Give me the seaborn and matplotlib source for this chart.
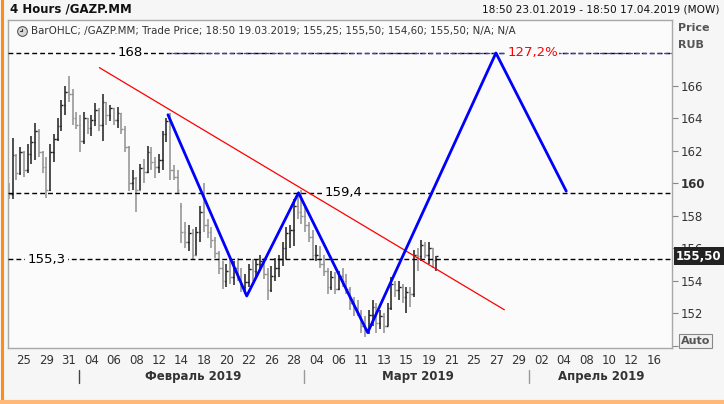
import numpy as np
import matplotlib
matplotlib.use("Agg")
import matplotlib.pyplot as plt
import matplotlib.transforms as mtrans
from matplotlib.lines import Line2D
import seaborn as sns

# 4h OHLC bars, 23.01.2019 18:50 .. 19.03.2019 18:50 (3 bars per trading day)
bar_open = [159.8, 159.3, 161.7, 160.6, 161.9, 160.8, 161.8, 162.5, 163.2, 161.9,
            161.0, 159.6, 161.9, 162.7, 163.5, 164.8, 165.6, 165.5, 164.0, 163.6,
            162.6, 164.0, 163.4, 163.9, 164.5, 163.6, 165.0, 164.2, 164.6, 163.9,
            164.3, 163.3, 162.2, 160.0, 160.3, 159.6, 160.9, 160.7, 161.9, 161.3,
            161.0, 161.4, 163.0, 163.8, 160.8, 160.4, 158.6, 157.0, 156.4, 156.9,
            155.6, 157.0, 158.2, 157.4, 157.0, 156.5, 155.7, 154.8, 154.0, 154.6,
            154.2, 154.8, 154.3, 153.6, 153.9, 154.7, 154.6, 155.0, 155.2, 154.4,
            153.4, 154.3, 154.8, 155.3, 156.0, 156.9, 157.1, 158.6, 158.2, 158.0,
            157.4, 156.7, 155.6, 155.6, 155.0, 154.6, 153.6, 154.2, 153.5, 154.3,
            154.0, 153.5, 152.6, 152.3, 152.0, 151.2, 151.0, 151.9, 152.4, 151.4,
            151.8, 151.2, 152.3, 153.8, 153.4, 153.6, 153.0, 153.3, 153.2, 155.6,
            155.5, 156.2, 155.6, 156.0, 155.25]
bar_high = [160.0, 162.8, 161.8, 162.2, 162.0, 162.4, 162.9, 163.7, 163.3, 162.0,
            161.6, 162.4, 163.0, 164.0, 165.1, 166.0, 166.6, 165.8, 164.4, 164.2,
            164.4, 164.0, 164.2, 164.9, 164.6, 165.5, 165.0, 164.8, 164.6, 164.7,
            164.3, 163.5, 162.3, 160.8, 160.4, 161.2, 161.5, 162.3, 162.2, 161.6,
            161.8, 163.2, 164.0, 164.3, 161.1, 160.8, 158.8, 157.6, 157.4, 157.2,
            157.3, 158.6, 160.0, 157.8, 157.3, 156.7, 155.8, 155.2, 155.0, 155.4,
            155.2, 155.4, 154.8, 154.4, 155.0, 155.3, 155.3, 155.6, 155.4, 154.8,
            154.9, 155.4, 155.6, 156.4, 157.3, 157.4, 159.0, 159.4, 159.6, 158.6,
            157.6, 157.1, 156.2, 156.1, 155.6, 154.8, 154.6, 154.5, 154.6, 154.8,
            154.4, 153.6, 153.0, 152.8, 152.2, 151.8, 152.2, 152.8, 152.6, 152.2,
            152.0, 152.6, 154.2, 154.0, 154.0, 153.8, 153.6, 153.6, 155.9, 156.0,
            156.5, 156.4, 156.4, 156.0, 155.50]
bar_low = [159.0, 159.0, 160.2, 160.5, 160.4, 160.6, 161.2, 161.4, 161.6, 160.6,
           159.1, 159.5, 161.3, 162.6, 163.2, 164.2, 165.0, 163.6, 163.3, 161.9,
           162.4, 163.0, 162.9, 163.5, 163.2, 162.6, 163.6, 163.8, 163.6, 163.4,
           163.0, 161.9, 159.5, 159.6, 158.2, 159.6, 160.0, 160.6, 160.8, 160.3,
           160.6, 160.8, 162.5, 160.2, 160.2, 159.4, 156.3, 156.0, 155.8, 155.3,
           155.6, 156.4, 157.0, 156.6, 156.0, 155.4, 154.4, 153.5, 153.6, 153.8,
           153.7, 154.0, 153.3, 153.2, 153.6, 154.0, 154.2, 154.6, 154.1, 152.8,
           153.3, 154.0, 154.2, 154.9, 155.3, 156.0, 156.1, 157.8, 157.5, 157.0,
           156.4, 155.3, 155.2, 154.8, 154.3, 153.2, 153.4, 153.2, 153.4, 153.6,
           153.2, 152.2, 151.8, 151.8, 150.8, 150.5, 150.7, 151.2, 150.8, 151.0,
           150.8, 151.2, 152.2, 153.0, 152.8, 152.6, 152.0, 152.4, 153.0, 154.6,
           155.2, 155.4, 155.0, 154.8, 154.60]
bar_close = [159.3, 161.7, 160.6, 161.9, 160.8, 161.8, 162.5, 163.2, 161.9, 161.0,
             159.6, 161.9, 162.7, 163.5, 164.8, 165.6, 165.5, 164.0, 163.6, 162.6,
             164.0, 163.4, 163.9, 164.5, 163.6, 165.0, 164.2, 164.6, 163.9, 164.3,
             163.3, 162.2, 160.0, 160.3, 159.6, 160.9, 160.7, 161.9, 161.3, 161.0,
             161.4, 163.0, 163.8, 160.8, 160.4, 159.6, 157.0, 156.4, 156.9, 155.6,
             157.0, 158.2, 157.4, 157.0, 156.5, 155.7, 154.8, 154.0, 154.6, 154.2,
             154.8, 154.3, 153.6, 153.9, 154.7, 154.6, 155.0, 155.2, 154.4, 153.4,
             154.3, 154.8, 155.3, 156.0, 156.9, 157.1, 158.6, 158.2, 158.0, 157.4,
             156.7, 155.6, 155.6, 155.0, 154.6, 153.6, 154.2, 153.5, 154.3, 154.0,
             153.5, 152.6, 152.3, 152.0, 151.2, 151.0, 151.9, 152.4, 151.4, 151.8,
             151.2, 152.3, 153.8, 153.4, 153.6, 153.0, 153.3, 153.2, 155.6, 155.5,
             156.2, 155.6, 156.0, 155.25, 155.50]

# drawn pattern (x in trading days from 23.01.2019)
zig_x = [14.8, 21.8, 26.4, 32.55, 43.95, 50.2]
zig_y = [164.2, 153.05, 159.4, 150.8, 168.0, 159.5]
trend_x = [8.7, 44.7]
trend_y = [167.1, 152.2]

levels = [168.0, 159.4, 155.3]
level_labels = ["168", "159,4", "155,3"]
level_label_x = [11.4, 30.4, 4.0]
fib_label = "127,2%"
fib_x = 47.2
last_price = 155.50

xtick_labels = ["25", "29", "31", "04", "06", "08", "12", "14", "18", "20", "22", "26", "28",
                "04", "06", "11", "13", "15", "19", "21", "25", "27", "29",
                "02", "04", "08", "10", "12", "16"]
month_starts = [7, 27, 47]
month_labels = ["Февраль 2019", "Март 2019", "Апрель 2019"]
yticks = [150, 152, 154, 156, 158, 160, 162, 164, 166]

sns.set_style("white")
plt.rcParams["font.family"] = ["DejaVu Sans"]

fig = plt.figure(figsize=(7.24, 4.04), dpi=100, facecolor="#f6f6f6")
ax = fig.add_axes([8 / 724, 56 / 404, 664 / 724, 328 / 404], facecolor="#fbfbfb")
xmin, xmax = 0.58, 59.6
ax.set_xlim(xmin, xmax)
ax.set_ylim(149.85, 170.03)

# OHLC bars
n = len(bar_close)
pos = (np.arange(n) + 2) / 3.0
o = np.array(bar_open); c = np.array(bar_close)
cols = np.where(c >= o, "#1e1e1e", "#8f8f8f")
w = 0.14
ax.vlines(pos, bar_low, bar_high, colors=cols, lw=1.1, zorder=2)
ax.hlines(o, pos - w, pos, colors=cols, lw=1.0, zorder=2)
ax.hlines(c, pos, pos + w, colors=cols, lw=1.0, zorder=2)

# horizontal levels
for lv, lab, lx in zip(levels, level_labels, level_label_x):
    ax.axhline(lv, color="black", lw=1.0, ls=(0, (3.5, 2.2)), zorder=3)
    ax.text(lx, lv, lab, ha="center", va="center", fontsize=9.5, color="black", zorder=4,
            bbox=dict(facecolor="#fbfbfb", edgecolor="none", pad=1.5))
ax.plot([zig_x[0], xmax], [levels[0], levels[0]], color="#3a3aff", lw=0.9,
        ls=(2.5, (3.5, 2.2)), zorder=3)
ax.text(fib_x, levels[0], fib_label, ha="center", va="center", fontsize=9.5, color="red",
        zorder=4, bbox=dict(facecolor="#fbfbfb", edgecolor="none", pad=1.0))

# trend line and zigzag
sns.lineplot(x=trend_x, y=trend_y, ax=ax, color="red", lw=0.9, zorder=5)
sns.lineplot(x=zig_x, y=zig_y, ax=ax, color="#0000ff", lw=2.0, zorder=6, sort=False)

# axes styling
for s in ax.spines.values():
    s.set_color("#a8a8a8")
    s.set_linewidth(1.0)
ax.yaxis.tick_right()
ax.set_yticks(yticks)
ax.set_yticklabels([""] + [str(t) for t in yticks[1:]])
ax.tick_params(axis="y", direction="out", length=4, width=0.8, color="#888888",
               labelsize=8.5, labelcolor="#333333", pad=2)
for lab in ax.get_yticklabels():
    if lab.get_text() == "160":
        lab.set_fontweight("bold")
ax.set_xticks(np.arange(2, 59, 2))
ax.set_xticklabels(xtick_labels)
ax.tick_params(axis="x", direction="out", length=3, width=0.8, color="#888888",
               labelsize=8.5, labelcolor="#333333", pad=1)
ax.set_xlabel("")
ax.set_ylabel("")

# month separators and labels under the axis
trans = mtrans.blended_transform_factory(ax.transData, ax.transAxes)
for i, m in enumerate(month_starts):
    ax.add_line(Line2D([m - 0.1, m - 0.1], [-0.066, -0.107], transform=trans,
                       color="#444444" if i == 0 else "#999999", lw=1.0, clip_on=False))
month_centers = [(month_starts[0] + month_starts[1]) / 2, (month_starts[1] + month_starts[2]) / 2,
                 (month_starts[2] + xmax) / 2]
for mc, ml in zip(month_centers, month_labels):
    ax.text(mc, -0.088, ml, transform=trans, ha="center", va="center", fontsize=8.5,
            fontweight="bold", color="#333333")

# last price box
ax.annotate(f"{last_price:.2f}".replace(".", ","), xy=(1.0, last_price),
            xycoords=("axes fraction", "data"), xytext=(3, 0), textcoords="offset points",
            ha="left", va="center", fontsize=8.5, fontweight="bold", color="white", zorder=10,
            bbox=dict(facecolor="#222222", edgecolor="none", pad=1.6), annotation_clip=False)

# header texts
fig.text(10 / 724, 1 - 9 / 404, "4 Hours /GAZP.MM", fontsize=8.5, fontweight="bold",
         va="center", ha="left", color="#111111")
fig.text(720 / 724, 1 - 9 / 404, "18:50 23.01.2019 - 18:50 17.04.2019 (MOW)", fontsize=7.6,
         va="center", ha="right", color="#111111")
fig.text(31 / 724, 1 - 31 / 404,
         "BarOHLC; /GAZP.MM; Trade Price; 18:50 19.03.2019; 155,25; 155,50; 154,60; 155,50; N/A; N/A",
         fontsize=7.4, va="center", ha="left", color="#333333")
fig.add_artist(Line2D([22 / 724], [1 - 31 / 404], marker="o", ms=7, mfc="#d8d8d8", mec="#555555",
                      mew=0.8, transform=fig.transFigure))
fig.add_artist(Line2D([22 / 724, 22 / 724, 19.5 / 724], [1 - 28.5 / 404, 1 - 31 / 404, 1 - 31 / 404],
                      color="#333333", lw=0.8, transform=fig.transFigure))
fig.text(678 / 724, 1 - 28 / 404, "Price", fontsize=8, fontweight="bold", color="#555555",
         va="center", ha="left")
fig.text(678 / 724, 1 - 45 / 404, "RUB", fontsize=8, fontweight="bold", color="#555555",
         va="center", ha="left")
fig.text(681 / 724, 1 - 341 / 404, "Auto", fontsize=8, fontweight="bold", color="#555555",
         va="center", ha="left",
         bbox=dict(facecolor="#f0f0f0", edgecolor="#888888", lw=0.8, pad=1.2))

# orange frame
fig.add_artist(Line2D([1.5 / 724, 1.5 / 724], [3 / 404, 1], color="#ff8c1a", lw=2.2,
                      transform=fig.transFigure))
fig.add_artist(Line2D([0, 1], [2 / 404, 2 / 404], color="#ffb877", lw=3,
                      transform=fig.transFigure))

fig.savefig("out.png", dpi=100, facecolor=fig.get_facecolor())
